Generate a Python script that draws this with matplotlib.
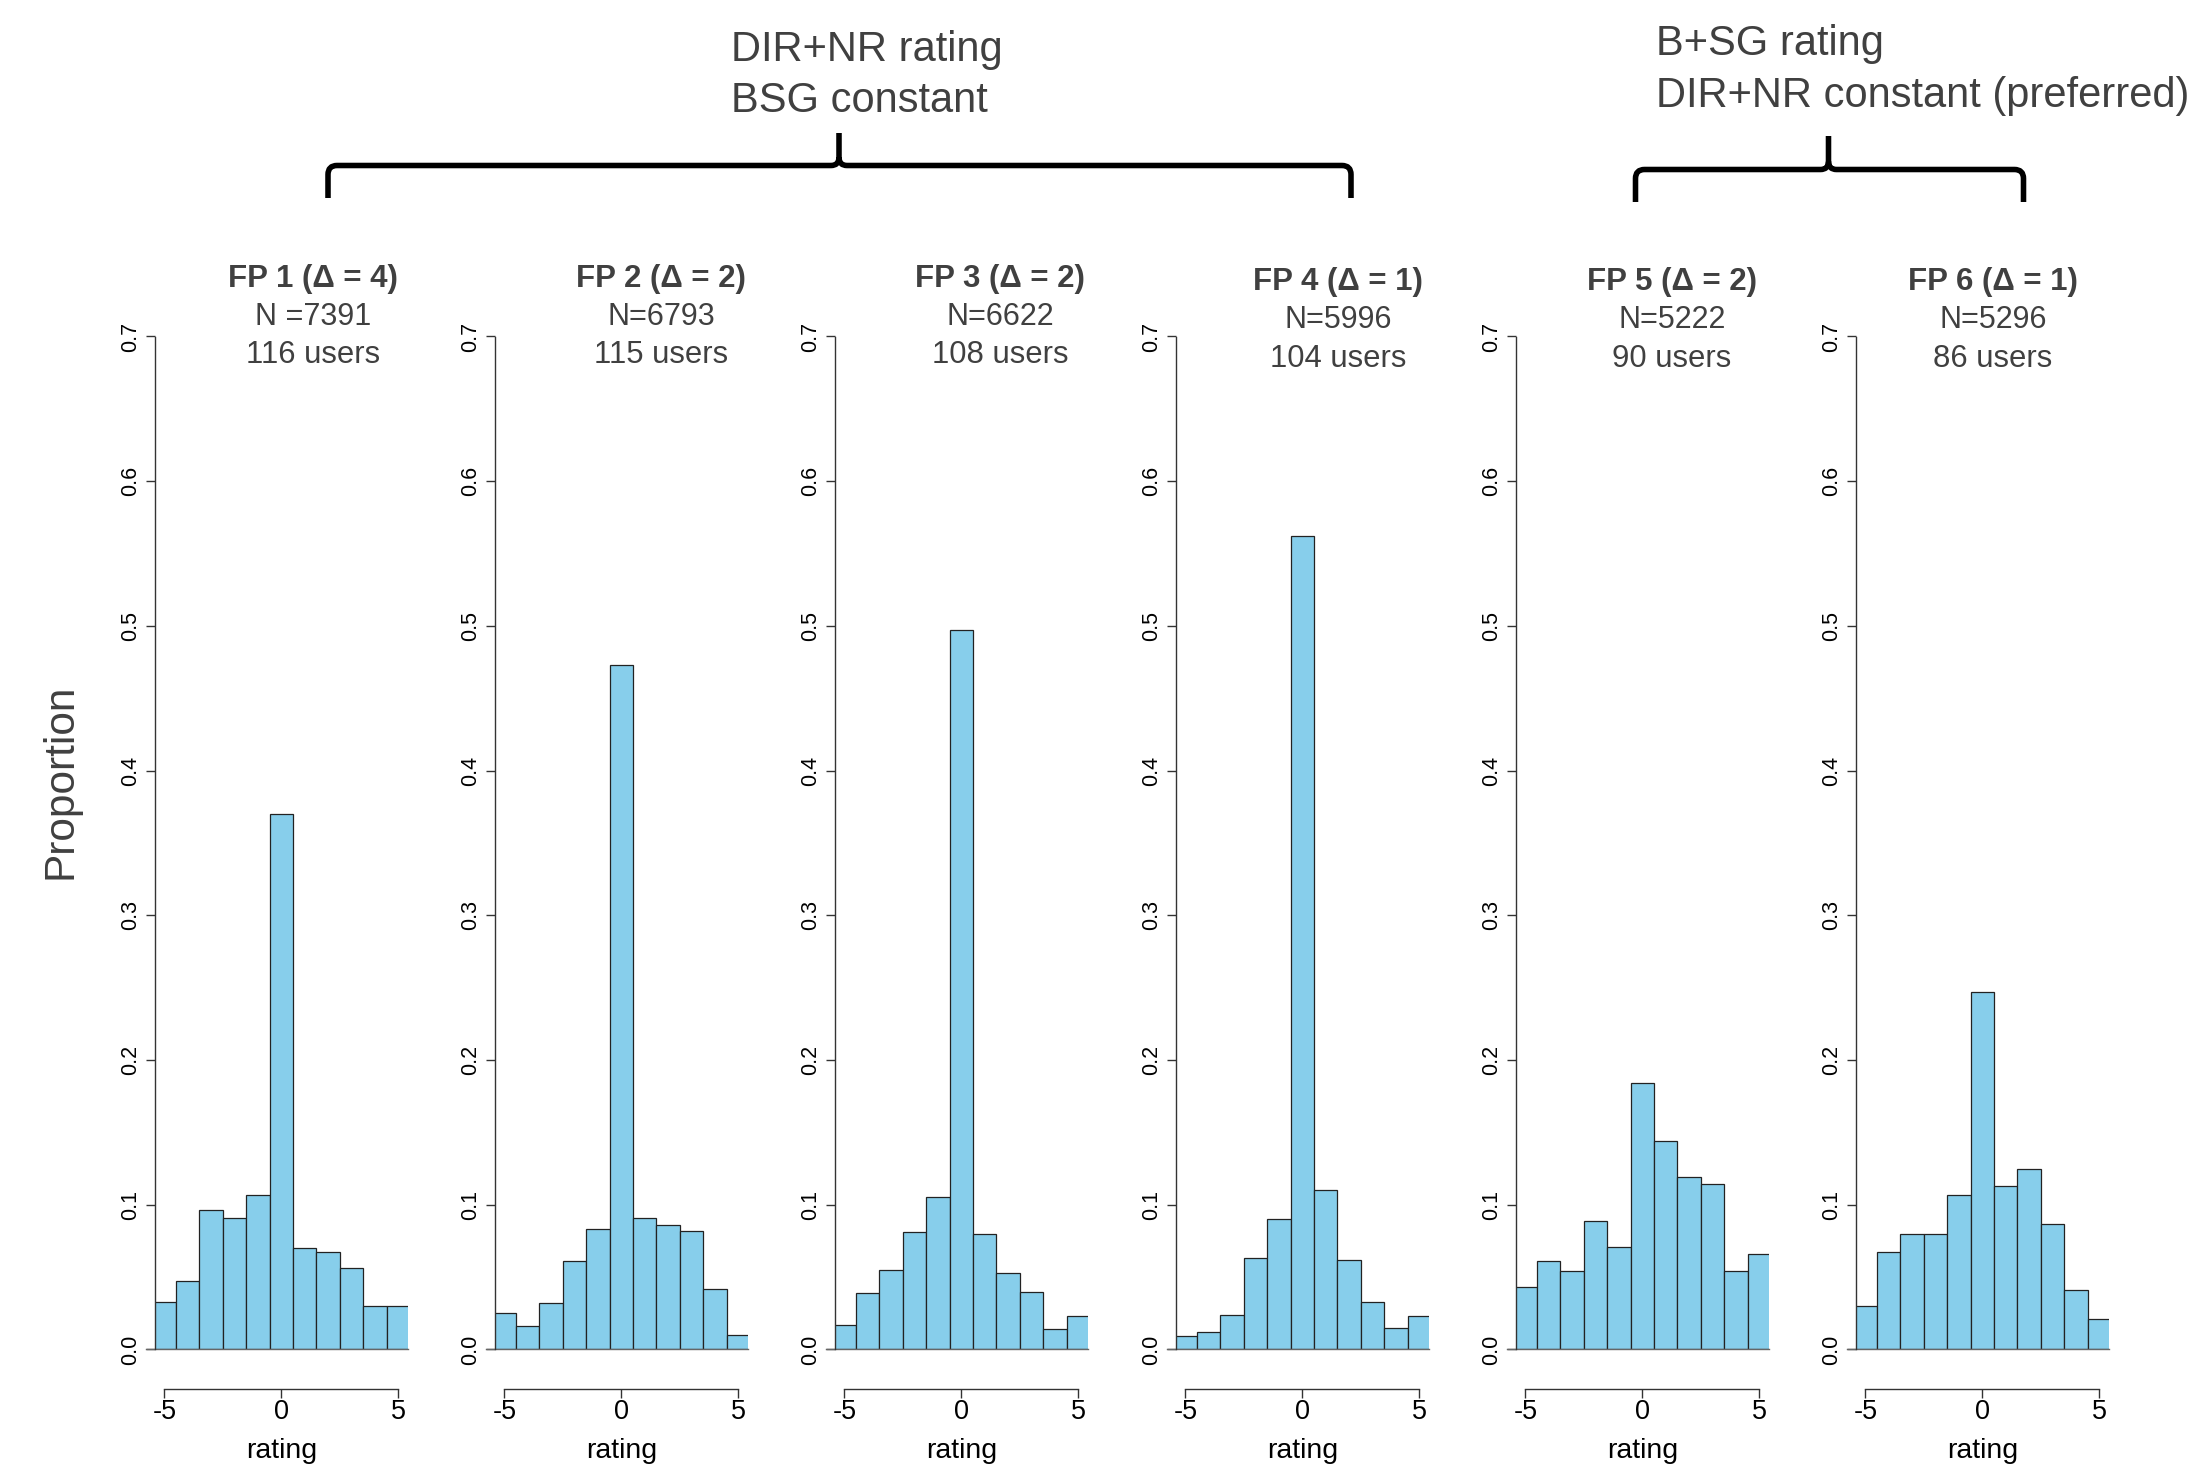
# proportion of ratings per FP, six histograms side by side
import numpy as np
import matplotlib.pyplot as plt
from matplotlib.path import Path
from matplotlib.patches import PathPatch

plt.rcParams['font.family'] = ['Liberation Sans', 'DejaVu Sans']

ratings = np.arange(-5, 6)

fp1 = [0.033, 0.047, 0.096, 0.091, 0.107, 0.370, 0.070, 0.067, 0.056, 0.030, 0.030]
fp2 = [0.025, 0.016, 0.032, 0.061, 0.083, 0.473, 0.091, 0.086, 0.082, 0.042, 0.010]
fp3 = [0.017, 0.039, 0.055, 0.081, 0.105, 0.497, 0.080, 0.053, 0.040, 0.014, 0.023]
fp4 = [0.009, 0.012, 0.024, 0.063, 0.090, 0.562, 0.110, 0.062, 0.033, 0.015, 0.023]
fp5 = [0.043, 0.061, 0.054, 0.089, 0.071, 0.184, 0.144, 0.119, 0.114, 0.054, 0.066]
fp6 = [0.030, 0.067, 0.080, 0.080, 0.107, 0.247, 0.113, 0.125, 0.087, 0.041, 0.021]
props = [fp1, fp2, fp3, fp4, fp5, fp6]

titles = ['FP 1 (Δ = 4)', 'FP 2 (Δ = 2)', 'FP 3 (Δ = 2)',
          'FP 4 (Δ = 1)', 'FP 5 (Δ = 2)', 'FP 6 (Δ = 1)']
n_labels = ['N =7391', 'N=6793', 'N=6622', 'N=5996', 'N=5222', 'N=5296']
user_labels = ['116 users', '115 users', '108 users', '104 users', '90 users', '86 users']

W, H = 2200, 1468
fig = plt.figure(figsize=(22, 14.68), dpi=100)

grey = '#404040'

# panel geometry (pixels)
lefts = [155, 495, 835, 1176, 1516, 1856]
ax_w = 252.7
y0_px, y7_px = 1349.4, 336.5
px_per_unit = ax_w / 10.8
title_dx = [1.35, 1.69, 1.65, 1.52, 1.27, 0.45]
title_dy = [0, 0, 0, 3.5, 3.5, 3.5]

for i in range(6):
    ax = fig.add_axes([lefts[i] / W, (H - y0_px) / H, ax_w / W, (y0_px - y7_px) / H])
    ax.patch.set_visible(False)
    ax.bar(ratings, props[i], width=1, color='#87CEEB', edgecolor='#222222', linewidth=0.9)
    ax.set_xlim(-5.4, 5.4)
    ax.set_ylim(0, 0.7)
    ax.plot([-5.8, 5.4], [0, 0], color='#666666', lw=1, clip_on=False)
    for s in ['top', 'right']:
        ax.spines[s].set_visible(False)
    ax.spines['left'].set_bounds(0, 0.7)
    ax.spines['bottom'].set_bounds(-5, 5)
    ax.spines['bottom'].set_position(('outward', 28.5))
    for s in ['left', 'bottom']:
        ax.spines[s].set_color('#333333')
        ax.spines[s].set_linewidth(1.0)
    ax.set_xticks([-5, 0, 5])
    ax.set_xticklabels(['-5', '0', '5'])
    ax.set_yticks(np.arange(0, 0.71, 0.1))
    ax.set_yticklabels(['%.1f' % v for v in np.arange(0, 0.71, 0.1)], rotation=90, va='center')
    ax.tick_params(axis='x', length=6.5, width=1.0, color='#333333', pad=0.5, labelsize=19.5)
    ax.tick_params(axis='y', length=6.5, width=1.0, color='#333333', pad=3.5, labelsize=15.5)

# overlay in pixel coordinates for braces and free text, drawn on top
ax0 = fig.add_axes([0, 0, 1, 1], zorder=10)
ax0.set_xlim(0, W)
ax0.set_ylim(H, 0)
ax0.axis('off')
ax0.patch.set_visible(False)

for i in range(6):
    # titles above each panel
    xc = lefts[i] + (title_dx[i] + 5.4) * px_per_unit
    dy = title_dy[i]
    ax0.text(xc, 286.7 + dy, titles[i], ha='center', va='baseline',
             fontsize=22.5, fontweight='bold', color=grey)
    ax0.text(xc, 325 + dy, n_labels[i], ha='center', va='baseline', fontsize=22, color=grey)
    ax0.text(xc, 363.3 + dy, user_labels[i], ha='center', va='baseline', fontsize=22.3, color=grey)

    # x label
    ax0.text(lefts[i] + 5.4 * px_per_unit, 1458, 'rating', ha='center', va='baseline',
             fontsize=20.5, color='black')

ax0.text(61, 781, 'Proportion', rotation=90, ha='center', va='center', fontsize=30.5, color=grey)


def brace(x0, x1, xc, yh, ybot, ytop, r=9, rc=8):
    verts = [(x0, ybot), (x0, yh + r), (x0, yh), (x0 + r, yh),
             (xc - rc, yh), (xc, yh), (xc, yh - rc), (xc, ytop),
             (x1, ybot), (x1, yh + r), (x1, yh), (x1 - r, yh),
             (xc + rc, yh), (xc, yh), (xc, yh - rc)]
    codes = [Path.MOVETO, Path.LINETO, Path.CURVE3, Path.CURVE3,
             Path.LINETO, Path.CURVE3, Path.CURVE3, Path.LINETO,
             Path.MOVETO, Path.LINETO, Path.CURVE3, Path.CURVE3,
             Path.LINETO, Path.CURVE3, Path.CURVE3]
    ax0.add_patch(PathPatch(Path(verts, codes), facecolor='none', edgecolor='black',
                            lw=4, capstyle='butt', joinstyle='round'))


brace(328, 1351, 839, 165.5, 198, 133)
brace(1635.5, 2023.5, 1828.5, 169.5, 202, 136)

ax0.text(731, 61, 'DIR+NR rating', ha='left', va='baseline', fontsize=30, color=grey)
ax0.text(731, 112, 'BSG constant', ha='left', va='baseline', fontsize=30, color=grey)
ax0.text(1656, 55, 'B+SG rating', ha='left', va='baseline', fontsize=30, color=grey)
ax0.text(1656, 107, 'DIR+NR constant (preferred)', ha='left', va='baseline', fontsize=30, color=grey)

plt.savefig('out.png', dpi=100)
